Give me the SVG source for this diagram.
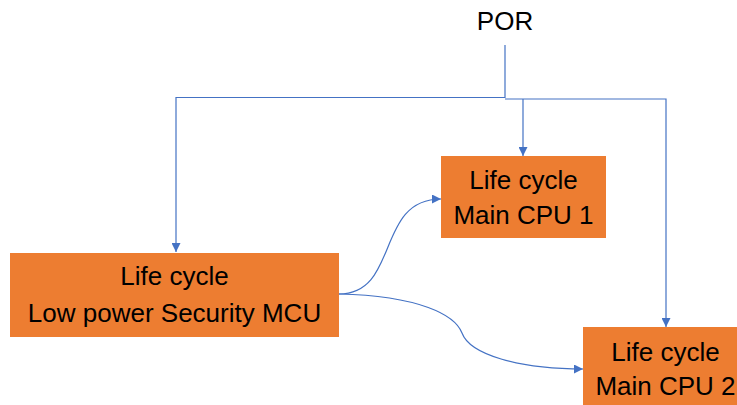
<svg xmlns="http://www.w3.org/2000/svg" width="737" height="405" viewBox="0 0 737 405">
  <style>
    .box { fill: #ED7D31; }
    .lbl { font-family: "Liberation Sans", Arial, sans-serif; font-size: 26px; fill: #000; text-anchor: middle; }
    .wire { fill: none; stroke: #4472C4; stroke-width: 1.2; }
  </style>
  <defs>
    <marker id="arrow" viewBox="0 0 10 10" refX="10" refY="5" markerWidth="9" markerHeight="9" markerUnits="userSpaceOnUse" orient="auto">
      <path d="M0,0 L10,5 L0,10 Z" fill="#4472C4"/>
    </marker>
  </defs>
  <rect width="737" height="405" fill="#fff"/>

  <g id="por">
    <text class="lbl" x="505" y="30" font-size="24">POR</text>
  </g>

  <g id="connectors">
    <!-- POR distribution bus -->
    <path class="wire" d="M505,45 V98"/>
    <path class="wire" d="M505,97.5 H176 V252" marker-end="url(#arrow)"/>
    <path class="wire" d="M505,99 H666 V327" marker-end="url(#arrow)"/>
    <path class="wire" d="M523,99 V156" marker-end="url(#arrow)"/>
    <!-- MCU to main CPUs -->
    <path class="wire" d="M339,294 C400,294 375,199 441,199" marker-end="url(#arrow)"/>
    <path class="wire" d="M339,294 C420,296 455,315 462,333 C470,355 520,369 583,369" marker-end="url(#arrow)"/>
  </g>

  <g id="cpu1">
    <rect class="box" x="441" y="156" width="165" height="82"/>
    <text class="lbl" x="523.5" y="189">Life cycle</text>
    <text class="lbl" x="523.5" y="224">Main CPU 1</text>
  </g>

  <g id="mcu">
    <rect class="box" x="10" y="253" width="329" height="84"/>
    <text class="lbl" x="174.5" y="285">Life cycle</text>
    <text class="lbl" x="174.5" y="322">Low power Security MCU</text>
  </g>

  <g id="cpu2">
    <rect class="box" x="583" y="327" width="165" height="82"/>
    <text class="lbl" x="665.5" y="361">Life cycle</text>
    <text class="lbl" x="665.5" y="395">Main CPU 2</text>
  </g>
</svg>
